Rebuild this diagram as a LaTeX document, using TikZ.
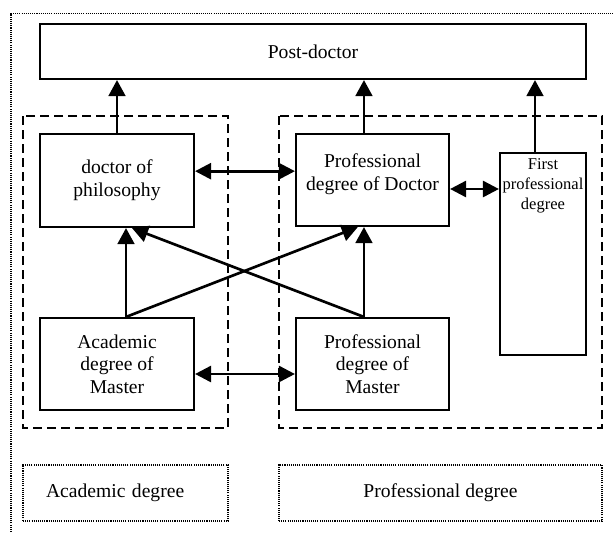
\documentclass[tikz,border=0pt]{standalone}
\usepackage{fontspec}
\setmainfont{Liberation Serif}
\usepackage{tikz}
\usepackage{xcolor}
\usetikzlibrary{arrows.meta,positioning}
\definecolor{ink}{HTML}{000000}
\newcommand{\boxfont}{\fontsize{14.7pt}{17pt}\selectfont}
\newcommand{\smallboxfont}{\fontsize{12.4pt}{15pt}\selectfont}

\begin{document}
\begin{tikzpicture}[x=0.75pt,y=-0.75pt,
    degbox/.style={draw=ink,line width=1.6pt,align=center,font=\boxfont,
      minimum width=115.5pt,minimum height=69pt},
    groupframe/.style={draw=ink,line width=1.5pt,dash pattern=on 6.75pt off 3.75pt},
    labelbox/.style={draw=ink,line width=0.9pt,dash pattern=on 0.8pt off 0.8pt,
      font=\boxfont,minimum height=42pt},
    upto/.style={draw=ink,line width=2pt,-{Triangle[length=12pt,width=12.5pt]}},
    both/.style={draw=ink,line width=2pt,
      {Triangle[length=12pt,width=12pt]}-{Triangle[length=12pt,width=12pt]}}]
    \path[use as bounding box] (0,0) rectangle (613,532);
    % outer frame
    \draw[ink,line width=1pt,dash pattern=on 0.8pt off 0.8pt]
      (11,532) -- (11,13.5) -- (613,13.5);
    % top
    \node[degbox,minimum width=409.5pt,minimum height=41.25pt] (post) at (313,51.5)
      {Post-doctor};
    % groups
    \draw[groupframe] (23,116) rectangle (228,428);
    \draw[groupframe] (279,116) rectangle (602,428);
    % doctors
    \node[degbox,minimum height=69.75pt] (phd) at (117,180.5) {doctor of\\philosophy};
    \node[degbox,minimum width=114.75pt,text depth=12pt] (profdoc) at (372.5,180)
      {Professional\\degree of Doctor};
    \node[degbox,font=\smallboxfont,minimum width=64.5pt,minimum height=151.5pt,
      inner xsep=1pt,inner ysep=2pt,text depth=104.5pt] (firstprof) at (543,254)
      {First\\professional\\degree};
    % masters
    \node[degbox] (acadmaster) at (117,364) {Academic\\degree of\\Master};
    \node[degbox,minimum width=114.75pt] (profmaster) at (372.5,364)
      {Professional\\degree of\\Master};
    % legend
    \node[labelbox,minimum width=153.75pt,text width=119.25pt,inner xsep=17.25pt,
      align=left] (acadlabel) at (125.5,493) {Academic degree};
    \node[labelbox,minimum width=242.25pt] (proflabel) at (440.5,493)
      {Professional degree};
    % arrows to post-doctor
    \draw[upto] (phd.north) -- (phd.north |- post.south);
    \coordinate (pdtop) at ([xshift=-6.4pt]profdoc.north);
    \draw[upto] (pdtop) -- (pdtop |- post.south);
    \coordinate (fptop) at ([xshift=-6pt]firstprof.north);
    \draw[upto] (fptop) -- (fptop |- post.south);
    % master to doctor
    \coordinate (amtop) at ([xshift=6.75pt]acadmaster.north);
    \coordinate (pmtop) at ([xshift=-6.4pt]profmaster.north);
    \draw[upto] (amtop) -- (amtop |- phd.south);
    \draw[upto] (pmtop) -- (pmtop |- profdoc.south);
    \draw[upto] (amtop) -- ([xshift=-11pt]profdoc.south);
    \draw[upto] (pmtop) -- ([xshift=11.25pt]phd.south);
    % two-way links
    \coordinate (dl) at ([yshift=7pt]phd.east);
    \draw[both] (dl) -- (dl -| profdoc.west);
    \coordinate (fl) at ([yshift=-6.75pt]profdoc.east);
    \draw[both] (fl) -- (fl -| firstprof.west);
    \coordinate (ml) at ([yshift=-7.5pt]acadmaster.east);
    \draw[both] (ml) -- (ml -| profmaster.west);
  \end{tikzpicture}
\end{document}
